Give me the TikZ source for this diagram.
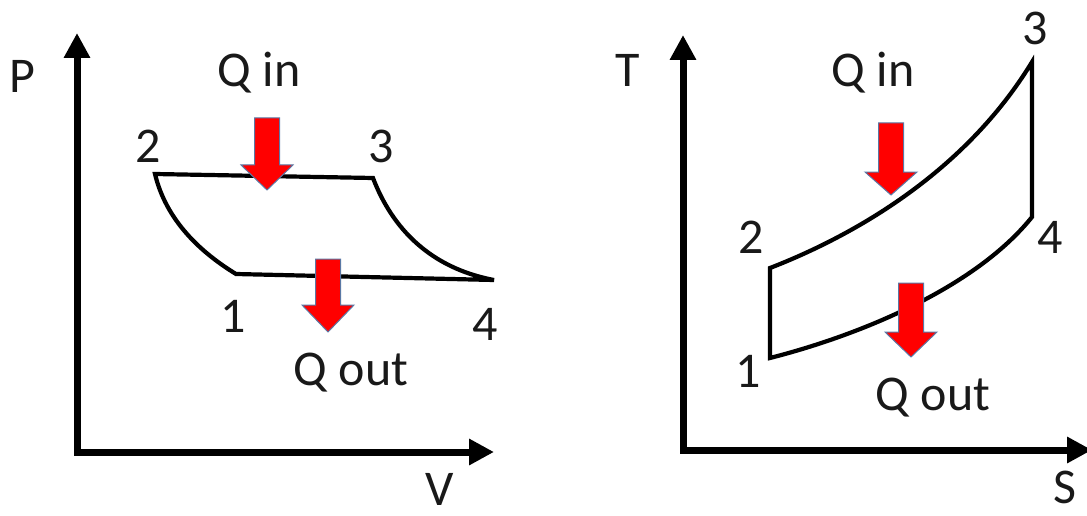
\documentclass[tikz,border=0pt]{standalone}
\usepackage{fontspec}
\setmainfont{Carlito}
\usetikzlibrary{arrows.meta}
\definecolor{qred}{RGB}{255,0,0}
\definecolor{qedge}{RGB}{90,120,165}
\definecolor{txt}{RGB}{25,25,25}
\tikzset{
  axis/.style={line width=7pt, line join=miter,
    {Triangle[width=25pt,length=25pt]}-{Triangle[width=25pt,length=25pt]}},
  cycle/.style={line width=4.2pt, line join=miter, miter limit=10},
  lbl/.style={anchor=base, inner sep=0pt, text=txt, font=\fontsize{50}{60}\selectfont},
  heat/.style={fill=qred, draw=qedge, line width=1pt, line join=miter}
}
\newcommand{\heatarrow}[5]{% name, x center, top y, head base y, tip y
  \path[heat] (#2-12.5,#3) -- (#2+12.5,#3) -- (#2+12.5,#4) -- (#2+26,#4)
    -- (#2,#5) -- (#2-26,#4) -- (#2-12.5,#4) -- cycle;
  \coordinate (#1) at (#2,#5);}
\begin{document}
\begin{tikzpicture}[x=1pt,y=-1pt]
\useasboundingbox (0,0) rectangle (1087,516);
% ---------- P-V diagram ----------
\coordinate (pvtop) at (77,33);
\coordinate (pvo) at (77,452);
\coordinate (pvright) at (494,452);
\draw[axis] (pvtop) -- (pvo) -- (pvright);
\node[lbl] (P) at (22,93) {P};
\node[lbl] (V) at (440,505) {V};

\coordinate (p1) at (236,274);
\coordinate (p2) at (155,174);
\coordinate (p3) at (373,178);
\coordinate (p4) at (494,280);
\draw[cycle] (p1) .. controls (200,252) and (166,220) .. (p2)
  -- (p3) .. controls (392,228) and (430,268) .. (p4) -- (p1) -- cycle;

\node[lbl] (n2a) at (148,162) {2};
\node[lbl] (n3a) at (381,162) {3};
\node[lbl] (n1a) at (233,332) {1};
\node[lbl] (n4a) at (485,340) {4};
\node[lbl] (qina) at (259,87) {Q in};
\node[lbl] (qouta) at (351,385) {Q out};

\heatarrow{hina}{267}{118}{165}{190}
\heatarrow{houta}{328}{259}{305}{332}

% ---------- T-s diagram ----------
\coordinate (tstop) at (683,35);
\coordinate (tso) at (683,450);
\coordinate (tsright) at (1092,450);
\draw[axis] (tstop) -- (tso) -- (tsright);
\node[lbl] (T) at (628,87) {T};
\node[lbl] (S) at (1065,503) {S};

\coordinate (t1) at (770,358);
\coordinate (t2) at (770,268);
\coordinate (t3) at (1032,62);
\coordinate (t4) at (1032,217);
\draw[cycle] (t1) -- (t2) .. controls (855,235) and (965,172) .. (t3)
  -- (t4) .. controls (975,288) and (860,335) .. (t1) -- cycle;

\node[lbl] (n2b) at (751,253) {2};
\node[lbl] (n3b) at (1035,45) {3};
\node[lbl] (n1b) at (748,387) {1};
\node[lbl] (n4b) at (1050,253) {4};
\node[lbl] (qinb) at (873,87) {Q in};
\node[lbl] (qoutb) at (933,410) {Q out};

\heatarrow{hinb}{891}{123}{172}{195}
\heatarrow{houtb}{911}{283}{332}{357}
\end{tikzpicture}
\end{document}
